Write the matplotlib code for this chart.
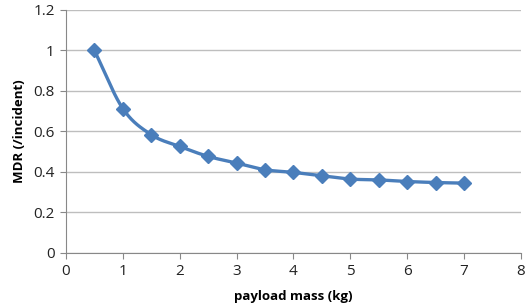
import numpy as np
import matplotlib
matplotlib.use("Agg")
import matplotlib.pyplot as plt

payload_mass = [0.5, 1.0, 1.5, 2.0, 2.5, 3.0, 3.5, 4.0, 4.5, 5.0, 5.5, 6.0, 6.5, 7.0]
mdr = [1.0, 0.713, 0.584, 0.526, 0.477, 0.444, 0.411, 0.398, 0.381, 0.365, 0.361, 0.353, 0.348, 0.345]
x_ticks = [0, 1, 2, 3, 4, 5, 6, 7, 8]
y_ticks = [0, 0.2, 0.4, 0.6, 0.8, 1.0, 1.2]
y_tick_labels = ["0", "0.2", "0.4", "0.6", "0.8", "1", "1.2"]

plt.rcParams['font.family'] = ['Open Sans', 'DejaVu Sans']


def catmull_rom(x, y, n=20):
    x = np.asarray(x, float)
    y = np.asarray(y, float)
    px = np.concatenate([[2 * x[0] - x[1]], x, [2 * x[-1] - x[-2]]])
    py = np.concatenate([[2 * y[0] - y[1]], y, [2 * y[-1] - y[-2]]])
    xs, ys = [], []
    t = np.linspace(0, 1, n, endpoint=False)
    for i in range(1, len(px) - 2):
        for arr, out in ((px, xs), (py, ys)):
            p0, p1, p2, p3 = arr[i - 1], arr[i], arr[i + 1], arr[i + 2]
            out.extend(0.5 * ((2 * p1) + (-p0 + p2) * t + (2 * p0 - 5 * p1 + 4 * p2 - p3) * t ** 2
                              + (-p0 + 3 * p1 - 3 * p2 + p3) * t ** 3))
    xs.append(x[-1]); ys.append(y[-1])
    return np.array(xs), np.array(ys)


fig = plt.figure(figsize=(5.30, 3.08), dpi=100)
ax = fig.add_axes([0.1245, 0.1786, 0.8585, 0.789])

color = '#4A7EBB'
sx, sy = catmull_rom(payload_mass, mdr)
ax.plot(sx, sy, color=color, lw=2.4, zorder=3)
ax.plot(payload_mass, mdr, linestyle='none', marker='D', ms=7, color=color, zorder=4)

ax.set_xlim(0, 8)
ax.set_ylim(0, 1.2)
ax.set_xticks(x_ticks)
ax.set_xticklabels([str(v) for v in x_ticks], fontsize=11)
ax.set_yticks(y_ticks)
ax.set_yticklabels(y_tick_labels, fontsize=11)
ax.yaxis.grid(True, color='#BEBEBE', lw=1)
ax.set_axisbelow(True)
for s in ['top', 'right']:
    ax.spines[s].set_visible(False)
for s in ['left', 'bottom']:
    ax.spines[s].set_color('#888888')
ax.tick_params(axis='both', colors='#888888', labelcolor='#222222', length=4, direction='out', pad=4)
ax.set_xlabel('payload mass (kg)', fontsize=9.5, fontweight='bold', labelpad=8)
ax.set_ylabel('MDR (/incident)', fontsize=9.5, fontweight='bold', labelpad=5)

fig.savefig('out.png', dpi=100)
